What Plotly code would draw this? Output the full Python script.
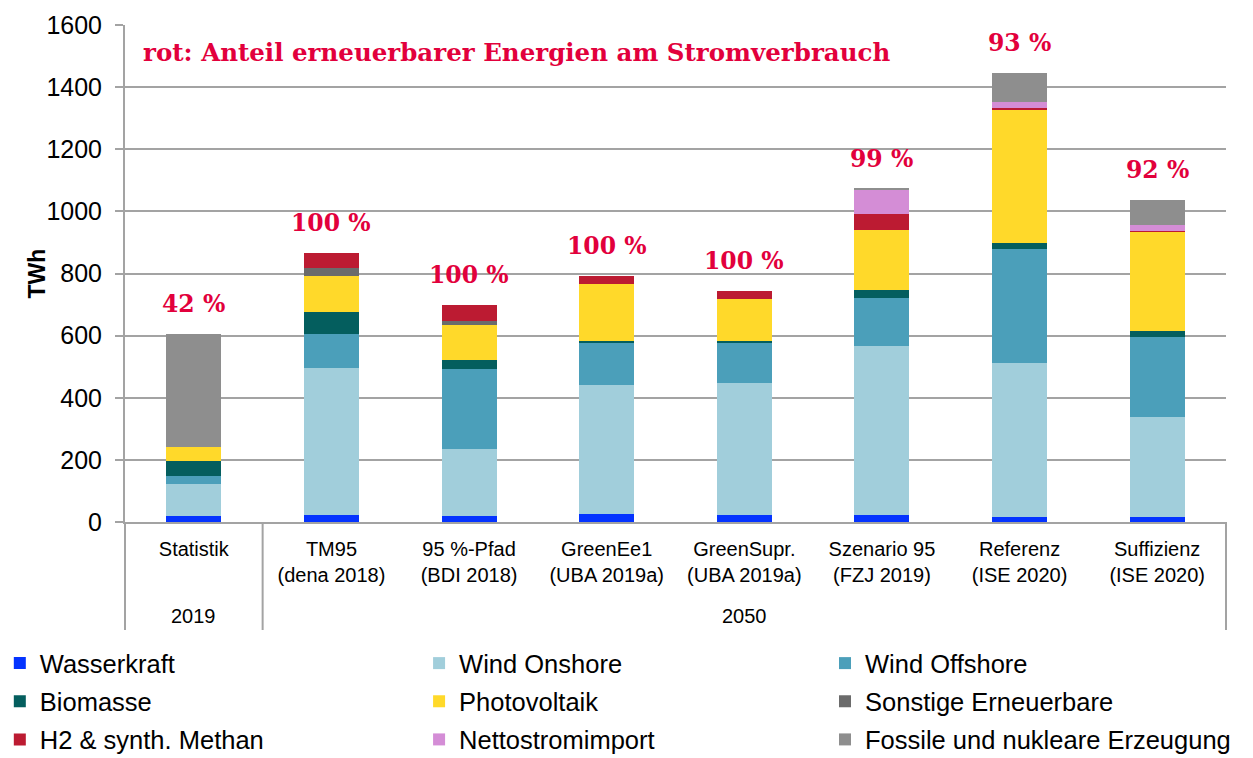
import plotly.graph_objects as go

categories = ["Statistik", "TM95<br>(dena 2018)", "95 %-Pfad<br>(BDI 2018)", "GreenEe1<br>(UBA 2019a)",
              "GreenSupr.<br>(UBA 2019a)", "Szenario 95<br>(FZJ 2019)", "Referenz<br>(ISE 2020)",
              "Suffizienz<br>(ISE 2020)"]
years = ["2019", "2050"]
shares = ["42 %", "100 %", "100 %", "100 %", "100 %", "99 %", "93 %", "92 %"]

wasserkraft = [20, 22, 19, 25, 24, 22, 16, 16]
wind_onshore = [101, 473, 215, 416, 423, 544, 497, 322]
wind_offshore = [27, 109, 260, 138, 131, 156, 366, 259]
biomasse = [47, 72, 26, 5, 4, 25, 19, 19]
photovoltaik = [46, 117, 115, 183, 135, 193, 431, 318]
sonstige = [0, 25, 13, 0, 0, 0, 0, 0]
h2_methan = [0, 48, 49, 25, 26, 52, 5, 4]
nettoimport = [0, 0, 0, 0, 0, 77, 18, 19]
fossil = [365, 0, 0, 0, 0, 4, 95, 81]

series = [
    ("Wasserkraft", wasserkraft, "#0433FF"),
    ("Wind Onshore", wind_onshore, "#A1CEDB"),
    ("Wind Offshore", wind_offshore, "#4B9FBA"),
    ("Biomasse", biomasse, "#045E5E"),
    ("Photovoltaik", photovoltaik, "#FFD92A"),
    ("Sonstige Erneuerbare", sonstige, "#6B6B6B"),
    ("H2 & synth. Methan", h2_methan, "#BC1B32"),
    ("Nettostromimport", nettoimport, "#D48DD6"),
    ("Fossile und nukleare Erzeugung", fossil, "#8E8E8E"),
]
legend_ids = ["legend", "legend2", "legend3"]

fig = go.Figure()
for i, (name, vals, col) in enumerate(series):
    fig.add_trace(go.Bar(x=categories, y=vals, name=name, marker=dict(color=col, line=dict(width=0)),
                         width=0.4, legend=legend_ids[i % 3], legendgroup="g%d" % i))

totals = [sum(s[1][i] for s in series) for i in range(len(categories))]
red = "#E2003C"
for c, t, s in zip(categories, totals, shares):
    fig.add_annotation(x=c, y=t, text=s, showarrow=False, yshift=30, yanchor="middle",
                       font=dict(family="DejaVu Serif", size=23.5, color=red, weight="bold"))

fig.add_annotation(xref="paper", yref="paper", x=0.0145, y=0.9437, xanchor="left", yanchor="middle",
                   text="rot: Anteil erneuerbarer Energien am Stromverbrauch", showarrow=False,
                   font=dict(family="DejaVu Serif", size=24.5, color=red, weight="bold"))

fig.add_annotation(xref="paper", yref="paper", x=-0.0936, y=0.5, text="<b>TWh</b>", textangle=-90,
                   showarrow=False, font=dict(family="Liberation Sans", size=23, color="black"))

# year labels
fig.add_annotation(x=categories[0], yref="paper", y=-0.189, text=years[0], showarrow=False,
                   yanchor="middle", font=dict(family="Liberation Sans", size=20, color="black"))
fig.add_annotation(xref="paper", x=(1 / 8 + 1) / 2, yref="paper", y=-0.189, text=years[1],
                   showarrow=False, yanchor="middle", font=dict(family="Liberation Sans", size=20, color="black"))

grid = "#A3A3A3"
ybot = -(630 - 522) / 497
for xp in [0, 1 / 8, 1]:
    fig.add_shape(type="line", xref="paper", yref="paper", x0=xp, x1=xp, y0=ybot, y1=0,
                  line=dict(color=grid, width=2))

leg_common = dict(orientation="v", xanchor="left", y=-0.2375, yanchor="top", itemwidth=30,
                  font=dict(family="Liberation Sans", size=25.5, color="black"),
                  traceorder="grouped", tracegroupgap=2, bgcolor="rgba(0,0,0,0)")

# page has an 8px body margin: figure is sized/offset to compensate
fig.update_layout(
    width=1245, height=750,
    margin=dict(l=117, r=27, t=17, b=236, autoexpand=False),
    barmode="stack",
    plot_bgcolor="white", paper_bgcolor="white",
    font=dict(family="Liberation Sans", color="black"),
    legend=dict(x=-0.1137, **leg_common),
    legend2=dict(x=0.2671, **leg_common),
    legend3=dict(x=0.6358, **leg_common),
    xaxis=dict(showline=True, linecolor=grid, linewidth=2, showgrid=False,
               tickfont=dict(family="Liberation Sans", size=20, color="black"),
               ticks="", ticklabelstandoff=8, range=[-0.5, 7.5]),
    yaxis=dict(range=[0, 1600], dtick=200, showgrid=True, gridcolor=grid, gridwidth=2,
               showline=True, linecolor=grid, linewidth=2, ticks="outside", ticklen=8,
               tickcolor=grid, tickwidth=2, ticklabelstandoff=8,
               tickfont=dict(family="Liberation Sans", size=25, color="black"), zeroline=False),
)

fig.write_html("out.html")
